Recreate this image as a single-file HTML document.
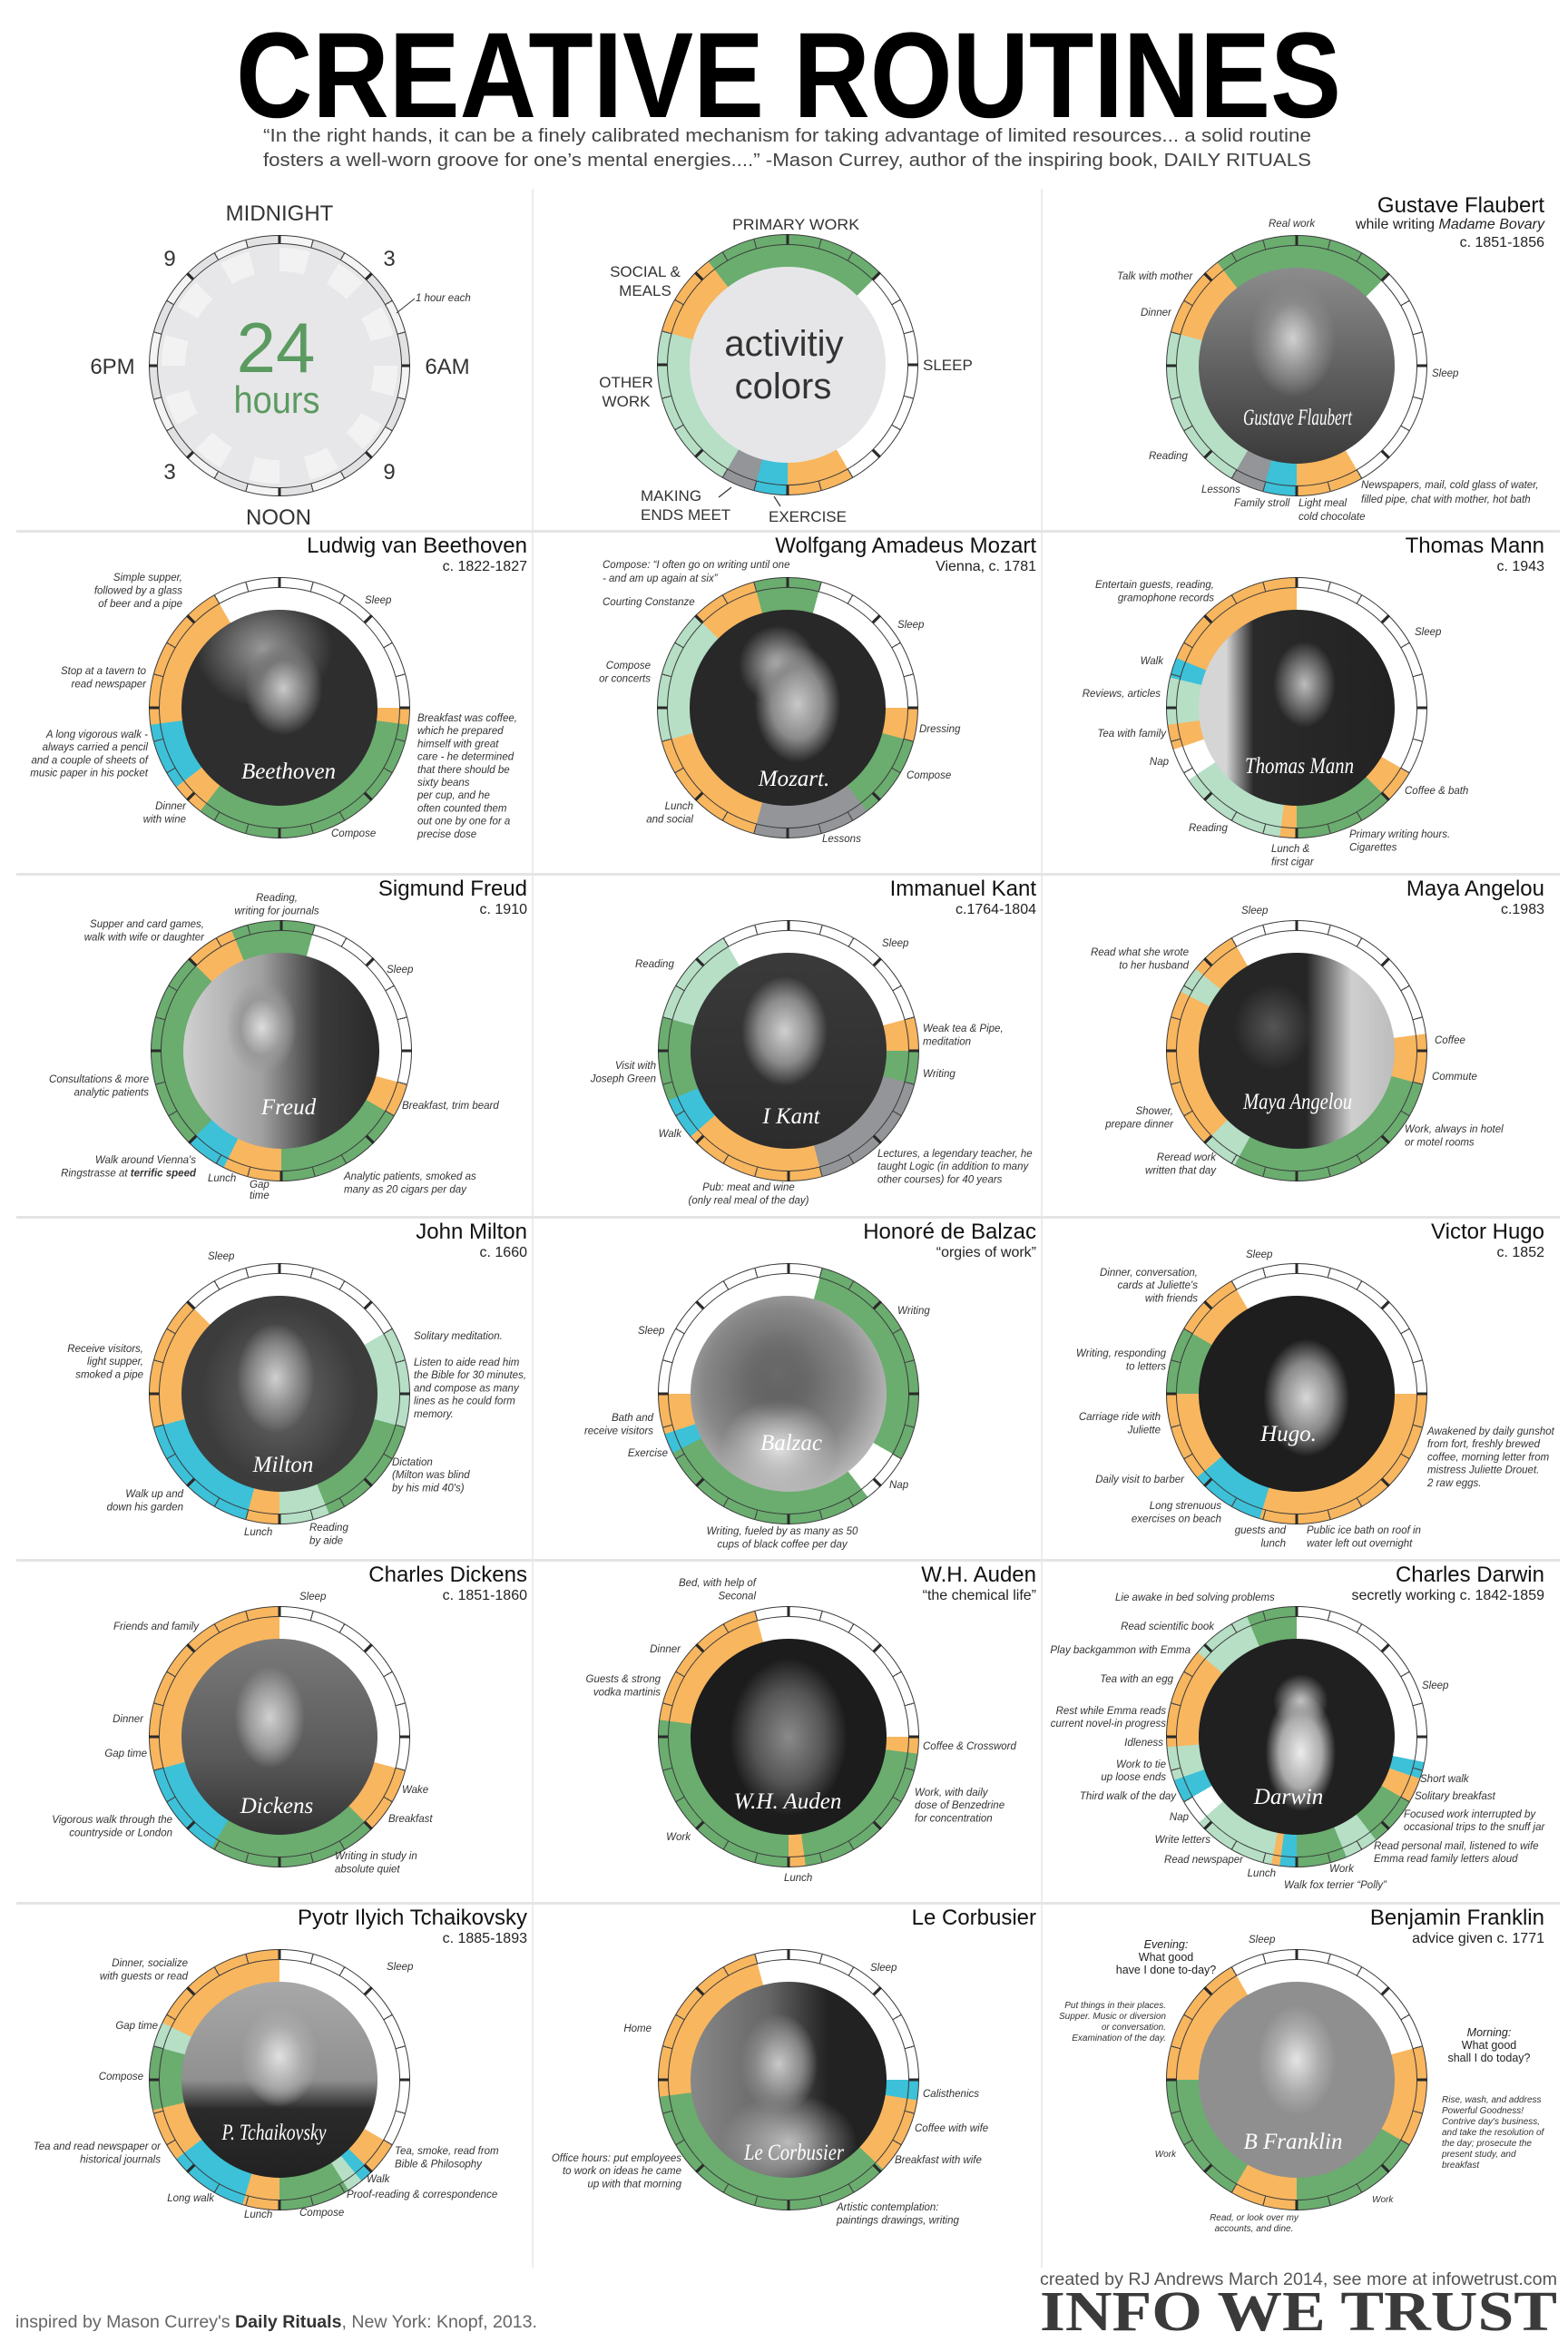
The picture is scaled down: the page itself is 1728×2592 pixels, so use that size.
<!DOCTYPE html>
<html>
<head>
<meta charset="utf-8">
<style>
html,body{margin:0;padding:0;background:#fff}
#c{position:relative;width:1728px;height:2592px;background:#fff;overflow:hidden;font-family:"Liberation Sans",Arial,sans-serif}
.ch{position:absolute;width:288px;height:288px}
.ch div{position:absolute;border-radius:50%;box-sizing:border-box}
.o{left:0;top:0;width:288px;height:288px;background:var(--g);border:1.5px solid #3a3a3a}
.t{left:0;top:0;width:288px;height:288px;background:repeating-conic-gradient(from -0.7deg,#2a2a2a 0deg 1.4deg,transparent 1.4deg 45deg),repeating-conic-gradient(from -0.25deg,#4a4a4a 0deg 0.5deg,transparent 0.5deg 15deg)}
.i{left:11px;top:11px;width:266px;height:266px;background:var(--g);border:1.2px solid #3a3a3a}
.p{left:36px;top:36px;width:216px;height:216px}
svg{position:absolute;left:0;top:0}
text{font-family:"Liberation Sans",Arial,sans-serif}
.nm{font-size:24px;fill:#111;text-anchor:end}
.sb{font-size:16px;fill:#222;text-anchor:end}
.a{font-size:11.5px;font-style:italic;fill:#333}
.ae{text-anchor:end}
.am{text-anchor:middle}
.lg{font-size:17px;fill:#333}
.cl{font-size:24px;fill:#333;text-anchor:middle}
.sig{font-family:"Liberation Serif",serif;font-style:italic;font-size:25px;fill:#fff;text-anchor:middle}
.sm{font-size:10px;font-style:italic;fill:#333}
</style>
</head>
<body>
<div id="c">

<!-- Row 1: 24 hours -->
<div class="ch" style="left:164px;top:259px;--g:repeating-conic-gradient(#f4f4f5 0deg 15deg,#e2e2e4 15deg 30deg)">
  <div class="o"></div><div class="t"></div>
  <div style="left:9px;top:9px;width:270px;height:270px;background:#e7e7e9;border:1.2px solid #3a3a3a"></div>
  <div style="left:14px;top:14px;width:260px;height:260px;background:repeating-conic-gradient(#f2f2f3 0deg 15deg,transparent 15deg 30deg)"></div>
  <div style="left:40px;top:40px;width:208px;height:208px;background:#e7e7e9"></div>
</div>

<!-- Legend -->
<div class="ch" style="left:724px;top:258px;--g:conic-gradient(#6aad6f 0deg 45deg,#fff 0 150deg,#f8b65f 0 180deg,#3cc1d9 0 195deg,#939598 0 210deg,#b6dfc6 0 285deg,#f8b65f 0 322.5deg,#6aad6f 0 360deg)">
  <div class="o"></div><div class="t"></div><div class="i"></div>
  <div class="p" style="background:#e6e6e8"></div>
</div>

<!-- Flaubert -->
<div class="ch" style="left:1285px;top:259px;--g:conic-gradient(#6aad6f 0deg 45deg,#fff 0 150deg,#f8b65f 0 180deg,#3cc1d9 0 195deg,#939598 0 210deg,#b6dfc6 0 285deg,#f8b65f 0 322.5deg,#6aad6f 0 360deg)">
  <div class="o"></div><div class="t"></div><div class="i"></div>
  <div class="p" style="background:radial-gradient(ellipse 22% 30% at 48% 36%,#d0d0d0,#8a8a8a 60%,rgba(0,0,0,0) 100%),linear-gradient(#8c8c8c,#5a5a5a 60%,#3a3a3a)"></div>
</div>

<!-- Row 2 -->
<div class="ch" style="left:164px;top:636px;--g:conic-gradient(#fff 0deg 90deg,#f8b65f 0 97.5deg,#6aad6f 0 217.5deg,#f8b65f 0 232.5deg,#3cc1d9 0 262.5deg,#f8b65f 0 330deg,#fff 0 360deg)">
  <div class="o"></div><div class="t"></div><div class="i"></div>
  <div class="p" style="background:radial-gradient(ellipse 20% 24% at 52% 40%,#c9c9c9,#777 60%,rgba(0,0,0,0) 100%),radial-gradient(ellipse 35% 30% at 42% 20%,#999,rgba(0,0,0,0) 100%),#2e2e2e"></div>
</div>
<div class="ch" style="left:724px;top:636px;--g:conic-gradient(#6aad6f 0deg 15deg,#fff 0 90deg,#f8b65f 0 105deg,#6aad6f 0 142.5deg,#939598 0 195deg,#f8b65f 0 255deg,#b6dfc6 0 315deg,#f8b65f 0 345deg,#6aad6f 0 360deg)">
  <div class="o"></div><div class="t"></div><div class="i"></div>
  <div class="p" style="background:radial-gradient(ellipse 22% 30% at 55% 48%,#c8c8c8,#8a8a8a 60%,rgba(0,0,0,0) 100%),radial-gradient(ellipse 20% 20% at 45% 28%,#bbb,rgba(0,0,0,0) 100%),#282828"></div>
</div>
<div class="ch" style="left:1285px;top:636px;--g:conic-gradient(#fff 0deg 120deg,#f8b65f 0 135deg,#6aad6f 0 180deg,#f8b65f 0 187.5deg,#b6dfc6 0 236.25deg,#fff 0 251.25deg,#f8b65f 0 262.5deg,#b6dfc6 0 283.5deg,#3cc1d9 0 292.5deg,#f8b65f 0 360deg)">
  <div class="o"></div><div class="t"></div><div class="i"></div>
  <div class="p" style="background:radial-gradient(ellipse 16% 22% at 54% 38%,#bdbdbd,#666 60%,rgba(0,0,0,0) 100%),linear-gradient(to right,#d5d5d5 0%,#d5d5d5 14%,#2a2a2a 28%,#222 100%)"></div>
</div>

<!-- Row 3 -->
<div class="ch" style="left:166px;top:1014px;--g:conic-gradient(#6aad6f 0deg 15deg,#fff 0 105deg,#f8b65f 0 120deg,#6aad6f 0 180deg,#f8b65f 0 206.25deg,#3cc1d9 0 225deg,#6aad6f 0 315deg,#f8b65f 0 337.5deg,#6aad6f 0 360deg)">
  <div class="o"></div><div class="t"></div><div class="i"></div>
  <div class="p" style="background:radial-gradient(ellipse 18% 24% at 40% 38%,#ddd,#999 60%,rgba(0,0,0,0) 100%),linear-gradient(to right,#d0d0d0 0%,#a0a0a0 40%,#3a3a3a 70%,#2a2a2a)"></div>
</div>
<div class="ch" style="left:725px;top:1014px;--g:conic-gradient(#fff 0deg 75deg,#f8b65f 0 90deg,#6aad6f 0 105deg,#939598 0 165deg,#f8b65f 0 228.75deg,#3cc1d9 0 247.5deg,#6aad6f 0 285deg,#b6dfc6 0 330deg,#fff 0 360deg)">
  <div class="o"></div><div class="t"></div><div class="i"></div>
  <div class="p" style="background:radial-gradient(ellipse 22% 28% at 48% 40%,#d0d0d0,#8a8a8a 60%,rgba(0,0,0,0) 100%),linear-gradient(#3a3a3a,#2c2c2c)"></div>
</div>
<div class="ch" style="left:1285px;top:1014px;--g:conic-gradient(#fff 0deg 82.5deg,#f8b65f 0 105deg,#6aad6f 0 208.5deg,#b6dfc6 0 225deg,#f8b65f 0 297deg,#b6dfc6 0 309deg,#f8b65f 0 330deg,#fff 0 360deg)">
  <div class="o"></div><div class="t"></div><div class="i"></div>
  <div class="p" style="background:radial-gradient(ellipse 20% 22% at 38% 38%,#555,rgba(0,0,0,0) 100%),linear-gradient(to right,#262626 0%,#262626 55%,#cfcfcf 78%,#bcbcbc)"></div>
</div>

<!-- Row 4 -->
<div class="ch" style="left:164px;top:1392px;--g:conic-gradient(#fff 0deg 60deg,#b6dfc6 0 105deg,#6aad6f 0 157.5deg,#b6dfc6 0 180deg,#f8b65f 0 195deg,#3cc1d9 0 255deg,#f8b65f 0 315deg,#fff 0 360deg)">
  <div class="o"></div><div class="t"></div><div class="i"></div>
  <div class="p" style="background:radial-gradient(ellipse 20% 28% at 48% 42%,#cfcfcf,#888 60%,rgba(0,0,0,0) 100%),radial-gradient(ellipse 40% 45% at 50% 50%,#6a6a6a,rgba(0,0,0,0) 100%),#3c3c3c"></div>
</div>
<div class="ch" style="left:725px;top:1392px;--g:conic-gradient(#fff 0deg 15deg,#6aad6f 0 120deg,#fff 0 142.5deg,#6aad6f 0 243deg,#3cc1d9 0 252deg,#f8b65f 0 270deg,#fff 0 360deg)">
  <div class="o"></div><div class="t"></div><div class="i"></div>
  <div class="p" style="background:radial-gradient(ellipse 20% 24% at 45% 40%,#6a6a6a,rgba(0,0,0,0) 100%),radial-gradient(ellipse 30% 25% at 45% 78%,#e0e0e0,rgba(0,0,0,0) 100%),radial-gradient(circle at 45% 45%,#555 0%,#888 50%,#cfcfcf 85%)"></div>
</div>
<div class="ch" style="left:1285px;top:1392px;--g:conic-gradient(#fff 0deg 90deg,#f8b65f 0 196.5deg,#3cc1d9 0 230deg,#f8b65f 0 270deg,#6aad6f 0 300deg,#f8b65f 0 330deg,#fff 0 360deg)">
  <div class="o"></div><div class="t"></div><div class="i"></div>
  <div class="p" style="background:radial-gradient(ellipse 22% 30% at 55% 52%,#d8d8d8,#888 60%,rgba(0,0,0,0) 100%),#1e1e1e"></div>
</div>

<!-- Row 5 -->
<div class="ch" style="left:164px;top:1770px;--g:conic-gradient(#fff 0deg 105deg,#f8b65f 0 135deg,#6aad6f 0 211.5deg,#3cc1d9 0 255deg,#f8b65f 0 360deg)">
  <div class="o"></div><div class="t"></div><div class="i"></div>
  <div class="p" style="background:radial-gradient(ellipse 18% 26% at 45% 40%,#d0d0d0,#999 60%,rgba(0,0,0,0) 100%),linear-gradient(#7a7a7a,#5a5a5a 60%,#333)"></div>
</div>
<div class="ch" style="left:725px;top:1770px;--g:conic-gradient(#fff 0deg 90deg,#f8b65f 0 97.5deg,#6aad6f 0 172.5deg,#f8b65f 0 180deg,#6aad6f 0 277.5deg,#f8b65f 0 345deg,#fff 0 360deg)">
  <div class="o"></div><div class="t"></div><div class="i"></div>
  <div class="p" style="background:radial-gradient(ellipse 30% 40% at 50% 50%,#8a8a8a,#555 60%,rgba(0,0,0,0) 100%),#1c1c1c"></div>
</div>
<div class="ch" style="left:1285px;top:1770px;--g:conic-gradient(#fff 0deg 101.25deg,#3cc1d9 0 108.75deg,#f8b65f 0 120deg,#6aad6f 0 142.5deg,#b6dfc6 0 157.5deg,#6aad6f 0 180deg,#3cc1d9 0 187.5deg,#f8b65f 0 191.25deg,#b6dfc6 0 228.75deg,#fff 0 240deg,#3cc1d9 0 250.5deg,#b6dfc6 0 265.5deg,#f8b65f 0 310.5deg,#b6dfc6 0 337.5deg,#6aad6f 0 360deg)">
  <div class="o"></div><div class="t"></div><div class="i"></div>
  <div class="p" style="background:radial-gradient(ellipse 18% 30% at 52% 58%,#ececec,#aaa 60%,rgba(0,0,0,0) 100%),radial-gradient(ellipse 14% 14% at 52% 32%,#ccc,rgba(0,0,0,0) 100%),#202020"></div>
</div>

<!-- Row 6 -->
<div class="ch" style="left:164px;top:2148px;--g:conic-gradient(#fff 0deg 120deg,#f8b65f 0 135deg,#3cc1d9 0 141deg,#b6dfc6 0 148deg,#6aad6f 0 180deg,#f8b65f 0 196.5deg,#3cc1d9 0 232.5deg,#f8b65f 0 256.5deg,#6aad6f 0 285deg,#b6dfc6 0 296deg,#f8b65f 0 360deg)">
  <div class="o"></div><div class="t"></div><div class="i"></div>
  <div class="p" style="background:radial-gradient(ellipse 20% 26% at 50% 38%,#e0e0e0,#aaa 60%,rgba(0,0,0,0) 100%),linear-gradient(#a8a8a8 0%,#909090 50%,#2a2a2a 65%,#222)"></div>
</div>
<div class="ch" style="left:725px;top:2148px;--g:conic-gradient(#fff 0deg 90deg,#3cc1d9 0 99deg,#f8b65f 0 133.5deg,#6aad6f 0 262.5deg,#f8b65f 0 345deg,#fff 0 360deg)">
  <div class="o"></div><div class="t"></div><div class="i"></div>
  <div class="p" style="background:radial-gradient(ellipse 20% 26% at 45% 42%,#c8c8c8,#888 60%,rgba(0,0,0,0) 100%),radial-gradient(ellipse 35% 25% at 50% 82%,#bbb,rgba(0,0,0,0) 100%),linear-gradient(to right,#888 0%,#666 40%,#222 70%,#222)"></div>
</div>
<div class="ch" style="left:1285px;top:2148px;--g:conic-gradient(#fff 0deg 75deg,#f8b65f 0 120deg,#6aad6f 0 180deg,#f8b65f 0 210deg,#6aad6f 0 270deg,#f8b65f 0 330deg,#fff 0 360deg)">
  <div class="o"></div><div class="t"></div><div class="i"></div>
  <div class="p" style="background:radial-gradient(ellipse 20% 28% at 50% 40%,#e4e4e4,#aaa 60%,rgba(0,0,0,0) 100%),#8f8f8f"></div>
</div>

<svg width="1728" height="2592" viewBox="0 0 1728 2592">
  <!-- dividers -->
  <g fill="#e4e4e4">
    <rect x="18" y="584" width="1701" height="3"/>
    <rect x="18" y="962" width="1701" height="3"/>
    <rect x="18" y="1340" width="1701" height="3"/>
    <rect x="18" y="1718" width="1701" height="3"/>
    <rect x="18" y="2096" width="1701" height="3"/>
  </g>
  <g fill="#e6e6e6">
    <rect x="586.3" y="208" width="1.5" height="2291"/>
    <rect x="1147.3" y="208" width="1.5" height="2291"/>
  </g>

  <!-- Title -->
  <text x="869" y="129" font-size="134" font-weight="bold" fill="#000" text-anchor="middle" textLength="1218" lengthAdjust="spacingAndGlyphs">CREATIVE ROUTINES</text>
  <text x="290" y="156" font-size="20" fill="#444" textLength="1155" lengthAdjust="spacingAndGlyphs">“In the right hands, it can be a finely calibrated mechanism for taking advantage of limited resources... a solid routine</text>
  <text x="290" y="183" font-size="20" fill="#444" textLength="1155" lengthAdjust="spacingAndGlyphs">fosters a well-worn groove for one’s mental energies....” -Mason Currey, author of the inspiring book, DAILY RITUALS</text>

  <!-- 24 hours chart labels -->
  <text class="cl" x="308" y="243">MIDNIGHT</text>
  <text class="cl" x="187" y="293">9</text>
  <text class="cl" x="429" y="293">3</text>
  <text class="cl" x="124" y="412">6PM</text>
  <text class="cl" x="493" y="412">6AM</text>
  <text class="cl" x="187" y="528">3</text>
  <text class="cl" x="429" y="528">9</text>
  <text class="cl" x="307" y="578">NOON</text>
  <text x="304" y="410" font-size="78" fill="#5b9a60" text-anchor="middle">24</text>
  <text x="305" y="455" font-size="42" fill="#5b9a60" text-anchor="middle" textLength="95" lengthAdjust="spacingAndGlyphs">hours</text>
  <text class="a" x="458" y="332">1 hour each</text>
  <line x1="437" y1="345" x2="457" y2="329" stroke="#333" stroke-width="1"/>

  <!-- Legend labels -->
  <text class="lg" x="877" y="253" text-anchor="middle" textLength="140" lengthAdjust="spacingAndGlyphs">PRIMARY WORK</text>
  <text class="lg" x="711" y="305" text-anchor="middle">SOCIAL &amp;</text>
  <text class="lg" x="711" y="326" text-anchor="middle">MEALS</text>
  <text class="lg" x="690" y="427" text-anchor="middle">OTHER</text>
  <text class="lg" x="690" y="448" text-anchor="middle">WORK</text>
  <text class="lg" x="1017" y="408">SLEEP</text>
  <text class="lg" x="706" y="552">MAKING</text>
  <text class="lg" x="706" y="573">ENDS MEET</text>
  <text class="lg" x="847" y="575">EXERCISE</text>
  <line x1="792" y1="548" x2="806" y2="537" stroke="#333" stroke-width="1.2"/>
  <line x1="853" y1="547" x2="860" y2="558" stroke="#333" stroke-width="1.2"/>
  <text x="864" y="392" font-size="40" fill="#333" text-anchor="middle">activitiy</text>
  <text x="863" y="439" font-size="40" fill="#333" text-anchor="middle">colors</text>

  <!-- Flaubert -->
  <text class="nm" x="1702" y="234">Gustave Flaubert</text>
  <text class="sb" x="1702" y="252">while writing <tspan font-style="italic">Madame Bovary</tspan></text>
  <text class="sb" x="1702" y="272">c. 1851-1856</text>
  <text class="a" x="1398" y="250">Real work</text>
  <text class="a" x="1231" y="308">Talk with mother</text>
  <text class="a" x="1257" y="348">Dinner</text>
  <text class="a" x="1578" y="415">Sleep</text>
  <text class="a" x="1266" y="506">Reading</text>
  <text class="a" x="1324" y="543">Lessons</text>
  <text class="a" x="1360" y="558">Family stroll</text>
  <text class="a" x="1431" y="558">Light meal</text>
  <text class="a" x="1431" y="573">cold chocolate</text>
  <text class="a" x="1500" y="538">Newspapers, mail, cold glass of water,</text>
  <text class="a" x="1500" y="554">filled pipe, chat with mother, hot bath</text>
  <text class="sig" x="1430" y="468" font-size="20" textLength="120" lengthAdjust="spacingAndGlyphs">Gustave Flaubert</text>

  <!-- Beethoven -->
  <text class="nm" x="581" y="609">Ludwig van Beethoven</text>
  <text class="sb" x="581" y="629">c. 1822-1827</text>
  <text class="a ae" x="201" y="640">Simple supper,<tspan x="201" dy="14.5">followed by a glass</tspan><tspan x="201" dy="14.5">of beer and a pipe</tspan></text>
  <text class="a" x="402" y="665">Sleep</text>
  <text class="a ae" x="161" y="743">Stop at a tavern to<tspan x="161" dy="14.5">read newspaper</tspan></text>
  <text class="a ae" x="163" y="813">A long vigorous walk -<tspan x="163" dy="14.2">always carried a pencil</tspan><tspan x="163" dy="14.2">and a couple of sheets of</tspan><tspan x="163" dy="14.2">music paper in his pocket</tspan></text>
  <text class="a ae" x="205" y="892">Dinner<tspan x="205" dy="14.5">with wine</tspan></text>
  <text class="a" x="365" y="922">Compose</text>
  <text class="a" x="460" y="795">Breakfast was coffee,<tspan x="460" dy="14.2">which he prepared</tspan><tspan x="460" dy="14.2">himself with great</tspan><tspan x="460" dy="14.2">care - he determined</tspan><tspan x="460" dy="14.2">that there should be</tspan><tspan x="460" dy="14.2">sixty beans</tspan><tspan x="460" dy="14.2">per cup, and he</tspan><tspan x="460" dy="14.2">often counted them</tspan><tspan x="460" dy="14.2">out one by one for a</tspan><tspan x="460" dy="14.2">precise dose</tspan></text>
  <text class="sig" x="318" y="858">Beethoven</text>

  <!-- Mozart -->
  <text class="nm" x="1142" y="609">Wolfgang Amadeus Mozart</text>
  <text class="sb" x="1142" y="629">Vienna, c. 1781</text>
  <text class="a" x="664" y="626">Compose: “I often go on writing until one</text>
  <text class="a" x="664" y="641">- and am up again at six”</text>
  <text class="a" x="664" y="667">Courting Constanze</text>
  <text class="a" x="989" y="692">Sleep</text>
  <text class="a ae" x="717" y="737">Compose<tspan x="717" dy="14.5">or concerts</tspan></text>
  <text class="a" x="1013" y="807">Dressing</text>
  <text class="a" x="999" y="858">Compose</text>
  <text class="a ae" x="764" y="892">Lunch<tspan x="764" dy="14.5">and social</tspan></text>
  <text class="a" x="906" y="928">Lessons</text>
  <text class="sig" x="875" y="866">Mozart.</text>

  <!-- Mann -->
  <text class="nm" x="1702" y="609">Thomas Mann</text>
  <text class="sb" x="1702" y="629">c. 1943</text>
  <text class="a ae" x="1338" y="648">Entertain guests, reading,<tspan x="1338" dy="14.5">gramophone records</tspan></text>
  <text class="a" x="1559" y="700">Sleep</text>
  <text class="a ae" x="1282" y="732">Walk</text>
  <text class="a ae" x="1279" y="768">Reviews, articles</text>
  <text class="a ae" x="1285" y="812">Tea with family</text>
  <text class="a ae" x="1288" y="843">Nap</text>
  <text class="a" x="1548" y="875">Coffee &amp; bath</text>
  <text class="a" x="1310" y="916">Reading</text>
  <text class="a" x="1401" y="939">Lunch &amp;<tspan x="1401" dy="14.5">first cigar</tspan></text>
  <text class="a" x="1487" y="923">Primary writing hours.<tspan x="1487" dy="14.5">Cigarettes</tspan></text>
  <text class="sig" x="1432" y="852" font-size="22" textLength="120" lengthAdjust="spacingAndGlyphs">Thomas Mann</text>

  <!-- Freud -->
  <text class="nm" x="581" y="987">Sigmund Freud</text>
  <text class="sb" x="581" y="1007">c. 1910</text>
  <text class="a am" x="305" y="993">Reading,<tspan x="305" dy="14.5">writing for journals</tspan></text>
  <text class="a ae" x="225" y="1022">Supper and card games,<tspan x="225" dy="14.5">walk with wife or daughter</tspan></text>
  <text class="a" x="426" y="1072">Sleep</text>
  <text class="a ae" x="164" y="1193">Consultations &amp; more<tspan x="164" dy="14.5">analytic patients</tspan></text>
  <text class="a" x="443" y="1222">Breakfast, trim beard</text>
  <text class="a ae" x="216" y="1282">Walk around Vienna's<tspan x="216" dy="14.5">Ringstrasse at <tspan font-weight="bold">terrific speed</tspan></tspan></text>
  <text class="a" x="229" y="1302" font-size="10">Lunch</text>
  <text class="a" x="275" y="1309" font-size="10">Gap<tspan x="275" dy="12">time</tspan></text>
  <text class="a" x="379" y="1300">Analytic patients, smoked as<tspan x="379" dy="14.5">many as 20 cigars per day</tspan></text>
  <text class="sig" x="318" y="1228">Freud</text>

  <!-- Kant -->
  <text class="nm" x="1142" y="987">Immanuel Kant</text>
  <text class="sb" x="1142" y="1007">c.1764-1804</text>
  <text class="a" x="972" y="1043">Sleep</text>
  <text class="a" x="700" y="1066">Reading</text>
  <text class="a" x="1017" y="1137">Weak tea &amp; Pipe,<tspan x="1017" dy="14.5">meditation</tspan></text>
  <text class="a" x="1017" y="1187">Writing</text>
  <text class="a ae" x="723" y="1178">Visit with<tspan x="723" dy="14.5">Joseph Green</tspan></text>
  <text class="a ae" x="751" y="1253">Walk</text>
  <text class="a" x="967" y="1275">Lectures, a legendary teacher, he<tspan x="967" dy="14.2">taught Logic (in addition to many</tspan><tspan x="967" dy="14.2">other courses) for 40 years</tspan></text>
  <text class="a am" x="825" y="1312">Pub: meat and wine<tspan x="825" dy="14.5">(only real meal of the day)</tspan></text>
  <text class="sig" x="872" y="1238">I Kant</text>

  <!-- Angelou -->
  <text class="nm" x="1702" y="987">Maya Angelou</text>
  <text class="sb" x="1702" y="1007">c.1983</text>
  <text class="a" x="1368" y="1007">Sleep</text>
  <text class="a ae" x="1310" y="1053">Read what she wrote<tspan x="1310" dy="14.5">to her husband</tspan></text>
  <text class="a" x="1581" y="1150">Coffee</text>
  <text class="a" x="1578" y="1190">Commute</text>
  <text class="a ae" x="1293" y="1228">Shower,<tspan x="1293" dy="14.5">prepare dinner</tspan></text>
  <text class="a" x="1548" y="1248">Work, always in hotel<tspan x="1548" dy="14.5">or motel rooms</tspan></text>
  <text class="a ae" x="1340" y="1279">Reread work<tspan x="1340" dy="14.5">written that day</tspan></text>
  <text class="sig" x="1430" y="1222" font-size="22" textLength="120" lengthAdjust="spacingAndGlyphs">Maya Angelou</text>

  <!-- Milton -->
  <text class="nm" x="581" y="1365">John Milton</text>
  <text class="sb" x="581" y="1385">c. 1660</text>
  <text class="a" x="229" y="1388">Sleep</text>
  <text class="a ae" x="158" y="1490">Receive visitors,<tspan x="158" dy="14.2">light supper,</tspan><tspan x="158" dy="14.2">smoked a pipe</tspan></text>
  <text class="a" x="456" y="1476">Solitary meditation.</text>
  <text class="a" x="456" y="1505">Listen to aide read him<tspan x="456" dy="14.2">the Bible for 30 minutes,</tspan><tspan x="456" dy="14.2">and compose as many</tspan><tspan x="456" dy="14.2">lines as he could form</tspan><tspan x="456" dy="14.2">memory.</tspan></text>
  <text class="a" x="432" y="1615">Dictation<tspan x="432" dy="14.2">(Milton was blind</tspan><tspan x="432" dy="14.2">by his mid 40's)</tspan></text>
  <text class="a ae" x="202" y="1650">Walk up and<tspan x="202" dy="14.5">down his garden</tspan></text>
  <text class="a" x="269" y="1692">Lunch</text>
  <text class="a" x="341" y="1687">Reading<tspan x="341" dy="14.5">by aide</tspan></text>
  <text class="sig" x="312" y="1622">Milton</text>

  <!-- Balzac -->
  <text class="nm" x="1142" y="1365">Honoré de Balzac</text>
  <text class="sb" x="1142" y="1385">“orgies of work”</text>
  <text class="a" x="989" y="1448">Writing</text>
  <text class="a" x="703" y="1470">Sleep</text>
  <text class="a ae" x="720" y="1566">Bath and<tspan x="720" dy="14.5">receive visitors</tspan></text>
  <text class="a ae" x="736" y="1605">Exercise</text>
  <text class="a" x="980" y="1640">Nap</text>
  <text class="a am" x="862" y="1691">Writing, fueled by as many as 50<tspan x="862" dy="14.5">cups of black coffee per day</tspan></text>
  <text class="sig" x="872" y="1598">Balzac</text>

  <!-- Hugo -->
  <text class="nm" x="1702" y="1365">Victor Hugo</text>
  <text class="sb" x="1702" y="1385">c. 1852</text>
  <text class="a" x="1373" y="1386">Sleep</text>
  <text class="a ae" x="1320" y="1406">Dinner, conversation,<tspan x="1320" dy="14.2">cards at Juliette's</tspan><tspan x="1320" dy="14.2">with friends</tspan></text>
  <text class="a ae" x="1285" y="1495">Writing, responding<tspan x="1285" dy="14.5">to letters</tspan></text>
  <text class="a ae" x="1279" y="1565">Carriage ride with<tspan x="1279" dy="14.5">Juliette</tspan></text>
  <text class="a ae" x="1305" y="1634">Daily visit to barber</text>
  <text class="a ae" x="1346" y="1663">Long strenuous<tspan x="1346" dy="14.5">exercises on beach</tspan></text>
  <text class="a ae" x="1417" y="1690">guests and<tspan x="1417" dy="14.5">lunch</tspan></text>
  <text class="a" x="1440" y="1690">Public ice bath on roof in<tspan x="1440" dy="14.5">water left out overnight</tspan></text>
  <text class="a" x="1573" y="1581">Awakened by daily gunshot<tspan x="1573" dy="14.2">from fort, freshly brewed</tspan><tspan x="1573" dy="14.2">coffee, morning letter from</tspan><tspan x="1573" dy="14.2">mistress Juliette Drouet.</tspan><tspan x="1573" dy="14.2">2 raw eggs.</tspan></text>
  <text class="sig" x="1420" y="1588" font-size="34">Hugo.</text>

  <!-- Dickens -->
  <text class="nm" x="581" y="1743">Charles Dickens</text>
  <text class="sb" x="581" y="1763">c. 1851-1860</text>
  <text class="a" x="330" y="1763">Sleep</text>
  <text class="a ae" x="219" y="1796">Friends and family</text>
  <text class="a ae" x="158" y="1898">Dinner</text>
  <text class="a ae" x="162" y="1936">Gap time</text>
  <text class="a" x="443" y="1976">Wake</text>
  <text class="a" x="428" y="2008">Breakfast</text>
  <text class="a ae" x="190" y="2009">Vigorous walk through the<tspan x="190" dy="14.5">countryside or London</tspan></text>
  <text class="a" x="369" y="2049">Writing in study in<tspan x="369" dy="14.5">absolute quiet</tspan></text>
  <text class="sig" x="305" y="1998">Dickens</text>

  <!-- Auden -->
  <text class="nm" x="1142" y="1743">W.H. Auden</text>
  <text class="sb" x="1142" y="1763">“the chemical life”</text>
  <text class="a ae" x="833" y="1748">Bed, with help of<tspan x="833" dy="14.5">Seconal</tspan></text>
  <text class="a ae" x="750" y="1821">Dinner</text>
  <text class="a ae" x="728" y="1854">Guests &amp; strong<tspan x="728" dy="14.5">vodka martinis</tspan></text>
  <text class="a" x="1017" y="1928">Coffee &amp; Crossword</text>
  <text class="a" x="1008" y="1979">Work, with daily<tspan x="1008" dy="14.2">dose of Benzedrine</tspan><tspan x="1008" dy="14.2">for concentration</tspan></text>
  <text class="a ae" x="761" y="2028">Work</text>
  <text class="a" x="864" y="2073">Lunch</text>
  <text class="sig" x="868" y="1993">W.H. Auden</text>

  <!-- Darwin -->
  <text class="nm" x="1702" y="1743">Charles Darwin</text>
  <text class="sb" x="1702" y="1763">secretly working c. 1842-1859</text>
  <text class="a" x="1229" y="1764">Lie awake in bed solving problems</text>
  <text class="a ae" x="1338" y="1796">Read scientific book</text>
  <text class="a ae" x="1312" y="1822">Play backgammon with Emma</text>
  <text class="a ae" x="1293" y="1854">Tea with an egg</text>
  <text class="a ae" x="1285" y="1889">Rest while Emma reads<tspan x="1285" dy="14">current novel-in progress</tspan></text>
  <text class="a ae" x="1282" y="1924">Idleness</text>
  <text class="a ae" x="1285" y="1948">Work to tie<tspan x="1285" dy="14">up loose ends</tspan></text>
  <text class="a ae" x="1296" y="1983">Third walk of the day</text>
  <text class="a ae" x="1310" y="2006">Nap</text>
  <text class="a ae" x="1334" y="2031">Write letters</text>
  <text class="a ae" x="1370" y="2053">Read newspaper</text>
  <text class="a ae" x="1406" y="2068">Lunch</text>
  <text class="a" x="1465" y="2063">Work</text>
  <text class="a" x="1415" y="2081">Walk fox terrier “Polly”</text>
  <text class="a" x="1567" y="1861">Sleep</text>
  <text class="a" x="1565" y="1964">Short walk</text>
  <text class="a" x="1559" y="1983">Solitary breakfast</text>
  <text class="a" x="1547" y="2003">Focused work interrupted by<tspan x="1547" dy="14">occasional trips to the snuff jar</tspan></text>
  <text class="a" x="1514" y="2038">Read personal mail, listened to wife<tspan x="1514" dy="14">Emma read family letters aloud</tspan></text>
  <text class="sig" x="1420" y="1988">Darwin</text>

  <!-- Tchaikovsky -->
  <text class="nm" x="581" y="2121">Pyotr Ilyich Tchaikovsky</text>
  <text class="sb" x="581" y="2141">c. 1885-1893</text>
  <text class="a" x="426" y="2171">Sleep</text>
  <text class="a ae" x="207" y="2167">Dinner, socialize<tspan x="207" dy="14.5">with guests or read</tspan></text>
  <text class="a ae" x="174" y="2236">Gap time</text>
  <text class="a ae" x="158" y="2292">Compose</text>
  <text class="a ae" x="177" y="2369">Tea and read newspaper or<tspan x="177" dy="14.5">historical journals</tspan></text>
  <text class="a" x="435" y="2374">Tea, smoke, read from<tspan x="435" dy="14.5">Bible &amp; Philosophy</tspan></text>
  <text class="a" x="404" y="2405">Walk</text>
  <text class="a" x="382" y="2422">Proof-reading &amp; correspondence</text>
  <text class="a ae" x="236" y="2426">Long walk</text>
  <text class="a" x="269" y="2444">Lunch</text>
  <text class="a" x="330" y="2442">Compose</text>
  <text class="sig" x="302" y="2358" font-size="22" textLength="115" lengthAdjust="spacingAndGlyphs">P. Tchaikovsky</text>

  <!-- Le Corbusier -->
  <text class="nm" x="1142" y="2121">Le Corbusier</text>
  <text class="a" x="959" y="2172">Sleep</text>
  <text class="a ae" x="718" y="2239">Home</text>
  <text class="a" x="1017" y="2311">Calisthenics</text>
  <text class="a" x="1008" y="2349">Coffee with wife</text>
  <text class="a" x="986" y="2384">Breakfast with wife</text>
  <text class="a ae" x="751" y="2382">Office hours: put employees<tspan x="751" dy="14.2">to work on ideas he came</tspan><tspan x="751" dy="14.2">up with that morning</tspan></text>
  <text class="a" x="922" y="2436">Artistic contemplation:<tspan x="922" dy="14.5">paintings drawings, writing</tspan></text>
  <text class="sig" x="875" y="2380" font-size="22" textLength="110" lengthAdjust="spacingAndGlyphs">Le Corbusier</text>

  <!-- Franklin -->
  <text class="nm" x="1702" y="2121">Benjamin Franklin</text>
  <text class="sb" x="1702" y="2141">advice given c. 1771</text>
  <text class="a" x="1376" y="2141">Sleep</text>
  <text class="am" x="1285" y="2147" font-size="12.5" fill="#222" font-style="italic">Evening:</text>
  <text class="am" x="1285" y="2161" font-size="12.5" fill="#222">What good</text>
  <text class="am" x="1285" y="2175" font-size="12.5" fill="#222">have I done to-day?</text>
  <text class="sm ae" x="1285" y="2213">Put things in their places.<tspan x="1285" dy="12">Supper. Music or diversion</tspan><tspan x="1285" dy="12">or conversation.</tspan><tspan x="1285" dy="12">Examination of the day.</tspan></text>
  <text class="am" x="1641" y="2244" font-size="12.5" fill="#222" font-style="italic">Morning:</text>
  <text class="am" x="1641" y="2258" font-size="12.5" fill="#222">What good</text>
  <text class="am" x="1641" y="2272" font-size="12.5" fill="#222">shall I do today?</text>
  <text class="sm" x="1589" y="2317">Rise, wash, and address<tspan x="1589" dy="12">Powerful Goodness!</tspan><tspan x="1589" dy="12">Contrive day's business,</tspan><tspan x="1589" dy="12">and take the resolution of</tspan><tspan x="1589" dy="12">the day; prosecute the</tspan><tspan x="1589" dy="12">present study, and</tspan><tspan x="1589" dy="12">breakfast</tspan></text>
  <text class="sm ae" x="1296" y="2377">Work</text>
  <text class="sm" x="1512" y="2427">Work</text>
  <text class="sm am" x="1382" y="2447">Read, or look over my<tspan x="1382" dy="12">accounts, and dine.</tspan></text>
  <text class="sig" x="1425" y="2368">B Franklin</text>

  <!-- Footer -->
  <text x="17" y="2565" font-size="19" fill="#666" textLength="575" lengthAdjust="spacingAndGlyphs">inspired by Mason Currey's <tspan font-weight="bold" fill="#333">Daily Rituals</tspan>, New York: Knopf, 2013.</text>
  <text x="1146" y="2518" font-size="19" fill="#555" textLength="570" lengthAdjust="spacingAndGlyphs">created by RJ Andrews March 2014, see more at infowetrust.com</text>
  <text x="1146" y="2568" font-size="62" font-weight="bold" fill="#3a3a3a" style="font-family:'Liberation Serif',serif" textLength="570" lengthAdjust="spacingAndGlyphs">INFO WE TRUST</text>
</svg>
</div>
</body>
</html>
